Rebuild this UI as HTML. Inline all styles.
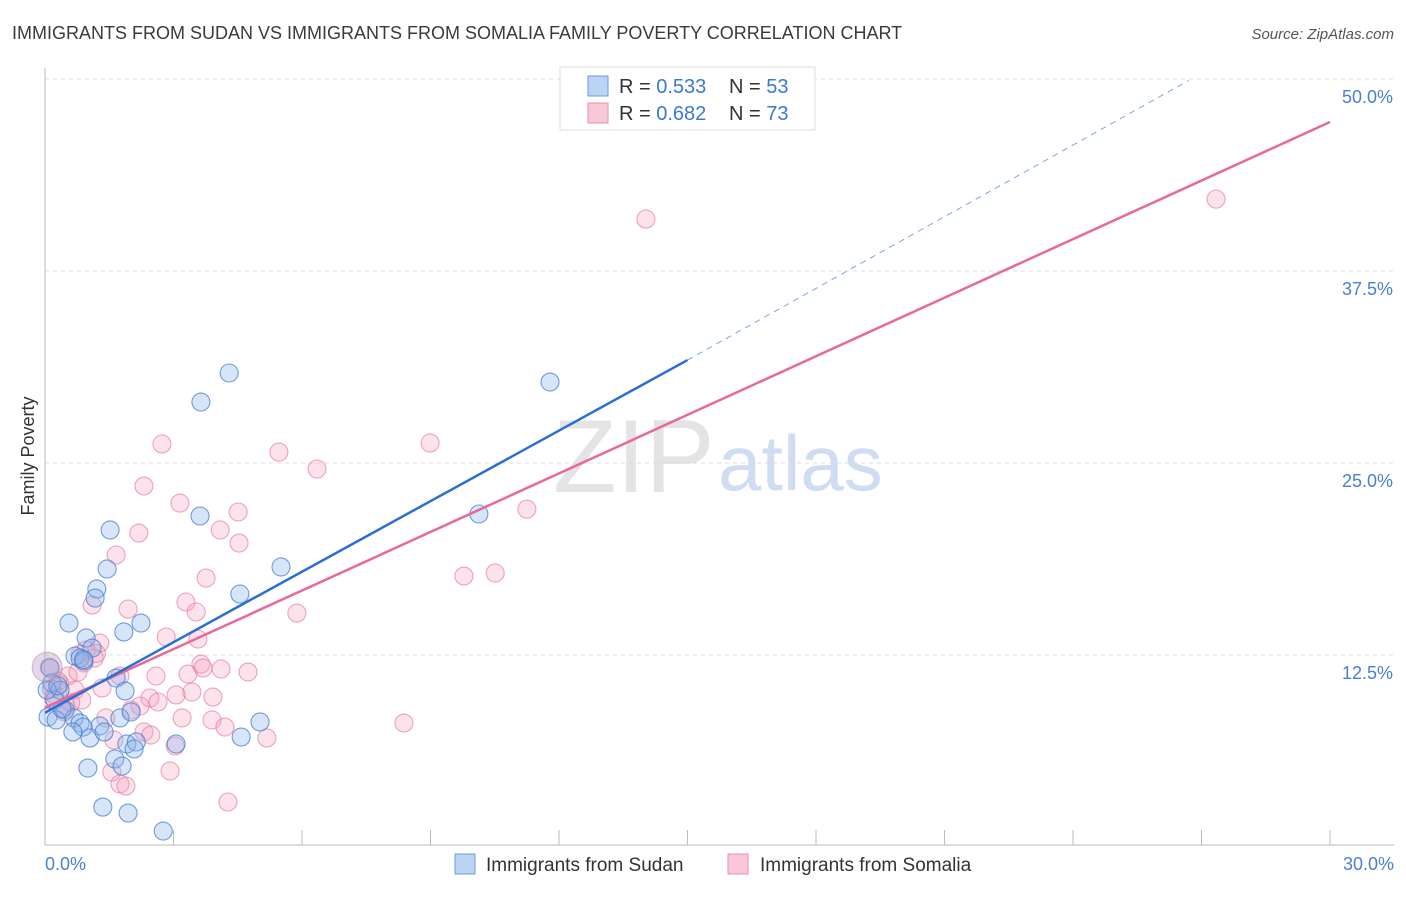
<!DOCTYPE html>
<html><head><meta charset="utf-8"><style>
body{margin:0;background:#fff;font-family:"Liberation Sans",sans-serif;}
svg text{font-family:"Liberation Sans",sans-serif;}
</style></head><body>
<svg id="chart" width="1406" height="892" xmlns="http://www.w3.org/2000/svg">
<text x="12" y="39" font-size="18" fill="#3a3a3a">IMMIGRANTS FROM SUDAN VS IMMIGRANTS FROM SOMALIA FAMILY POVERTY CORRELATION CHART</text>
<text x="1394" y="39" font-size="15" fill="#555" font-style="italic" text-anchor="end">Source: ZipAtlas.com</text>
<text x="553" y="492" font-size="104" fill="#e4e4e4" font-family="Liberation Serif">ZIP</text>
<text x="718" y="490" font-size="78" fill="#cfdcf2">atlas</text>
<g id="grid"></g>
<line x1="45" y1="68" x2="45" y2="845" stroke="#bbb"/>
<line x1="45" y1="845" x2="1394" y2="845" stroke="#bbb"/>
<g id="ticks"></g>
<text transform="translate(34,456) rotate(-90)" font-size="18" fill="#333" text-anchor="middle">Family Poverty</text>
<text x="45" y="870" font-size="18" fill="#4a7fd4">0.0%</text>
<text x="1394" y="870" font-size="18" fill="#4a7fd4" text-anchor="end">30.0%</text>
<g id="points"></g>
<g id="lines"></g>
<g>
<rect x="560" y="67" width="255" height="63" fill="#fff" stroke="#ddd"/>
<rect x="588" y="76" width="20" height="20" fill="#bcd3f3" stroke="#6b9be0"/>
<text x="619" y="93" font-size="20" fill="#333">R = <tspan fill="#3b78d6">0.533</tspan></text>
<text x="729" y="93" font-size="20" fill="#333">N = <tspan fill="#3b78d6">53</tspan></text>
<rect x="588" y="103" width="20" height="20" fill="#f9c8d7" stroke="#e890ab"/>
<text x="619" y="120" font-size="20" fill="#333">R = <tspan fill="#3b78d6">0.682</tspan></text>
<text x="729" y="120" font-size="20" fill="#333">N = <tspan fill="#3b78d6">73</tspan></text>
</g>
<g>
<rect x="455" y="854" width="20" height="20" fill="#bcd3f3" stroke="#6b9be0"/>
<text x="486" y="871" font-size="19" fill="#333">Immigrants from Sudan</text>
<rect x="728" y="854" width="20" height="20" fill="#f9c8d7" stroke="#e890ab"/>
<text x="760" y="871" font-size="19" fill="#333">Immigrants from Somalia</text>
</g>
</svg>
<script>
const yTicks=[12.5,25,37.5,50];
const yTickLabels=["12.5%","25.0%","37.5%","50.0%"];
const xTicks=[0,3,6,9,12,15,18,21,24,27,30];
const sudanX=[4.30,3.64,11.79,1.52,3.62,10.13,5.51,1.45,1.21,1.17,4.55,0.56,2.24,1.84,0.96,1.10,0.70,0.82,0.91,0.12,1.66,1.87,0.16,0.35,0.23,0.47,0.07,0.68,0.82,1.75,1.28,0.89,0.65,1.05,1.38,2.01,5.02,4.58,1.91,2.13,2.08,3.06,1.63,1.80,1.00,1.35,1.94,2.76,0.05,0.26,0.4,0.3,0.9];
const sudanY=[30.86,28.97,30.27,20.64,21.55,21.68,18.23,18.10,16.80,16.21,16.47,14.58,14.58,14.00,13.61,12.95,12.43,12.30,12.11,11.65,11.00,10.16,10.68,10.22,9.57,8.92,8.46,8.40,8.07,8.40,7.88,7.81,7.49,7.10,7.49,8.79,8.14,7.16,6.71,6.84,6.38,6.71,5.73,5.27,5.14,2.60,2.21,1.04,10.22,8.27,9.0,10.5,12.2];
const somaliaX=[14.03,27.34,2.73,5.46,8.99,6.35,2.31,3.15,4.51,11.25,4.09,2.19,4.53,1.66,3.76,9.78,10.51,1.10,1.94,3.29,3.53,5.88,2.83,3.57,1.28,0.96,1.15,0.82,0.91,3.64,3.69,4.11,4.74,3.34,2.59,1.75,0.54,0.35,0.70,1.33,0.86,3.43,3.06,3.92,2.45,2.64,2.22,1.42,2.01,3.20,3.90,8.38,4.20,2.31,2.47,1.61,5.18,3.04,1.56,2.92,1.75,1.89,4.27,0.49,0.77,0.23,0.1,0.3,0.6,1.2,0.15,0.45,0.2];
const somaliaY=[40.88,42.18,26.24,25.71,26.30,24.61,23.50,22.39,21.81,22.00,20.64,20.44,19.79,19.01,17.51,17.64,17.84,15.75,15.49,15.95,15.30,15.23,13.67,13.54,13.28,12.82,12.30,12.56,11.98,11.91,11.65,11.59,11.39,11.26,11.13,11.13,11.13,10.61,10.22,10.35,9.57,10.09,9.90,9.76,9.70,9.44,9.18,8.40,8.92,8.40,8.27,8.07,7.81,7.49,7.29,6.97,7.10,6.58,4.88,4.95,4.10,3.97,2.93,9.18,11.39,9.90,11.7,10.8,9.4,12.6,10.3,8.8,9.7];
const sudanLine=[[0,8.74],[15.0,31.7]];
const sudanDash=[[15.0,31.7],[26.7,49.9]];
const somaliaLine=[[0,9.07],[30,47.2]];
const NS="http://www.w3.org/2000/svg";
const sx=v=>45+v/30*1285;
const sy=v=>847-v/12.5*192;
function mk(tag,attrs,parent){const e=document.createElementNS(NS,tag);for(const k in attrs)e.setAttribute(k,attrs[k]);parent.appendChild(e);return e;}
const grid=document.getElementById('grid');
yTicks.forEach((t,i)=>{
  const l=mk('line',{x1:45,x2:1394,y1:sy(t),y2:sy(t),stroke:'#ddd','stroke-dasharray':'4,4'},grid);
  
  
  const tx=mk('text',{x:1393,y:sy(t)+24,'font-size':18,fill:'#4a7fd4','text-anchor':'end'},grid);
  tx.textContent=yTickLabels[i];
  
  
});
const ticks=document.getElementById('ticks');
xTicks.forEach(t=>{
  const l=mk('line',{x1:sx(t),x2:sx(t),y1:830,y2:845,stroke:'#bbb'},ticks);
  
  
});
const pts=document.getElementById('points');
function drawPts(xs,ys,fill,stroke,name){
  xs.forEach((x,i)=>{
    const c=mk('circle',{cx:sx(x),cy:sy(ys[i]),r:9,fill:fill,stroke:stroke,'stroke-width':1.1},pts);
    
    
  });
}
drawPts(somaliaX,somaliaY,'rgba(244,160,188,0.3)','rgba(228,120,155,0.65)','somalia-point');
drawPts(sudanX,sudanY,'rgba(140,180,236,0.35)','rgba(70,125,210,0.75)','sudan-point');
const big=mk('circle',{cx:sx(0.05),cy:sy(11.7),r:15,fill:'rgba(180,160,200,0.4)',stroke:'rgba(200,130,170,0.6)'},pts);


const lines=document.getElementById('lines');
function drawLine(p,color,dash,name,w){
  const l=mk('line',{x1:sx(p[0][0]),y1:sy(p[0][1]),x2:sx(p[1][0]),y2:sy(p[1][1]),stroke:color,'stroke-width':w},lines);
  if(dash)l.setAttribute('stroke-dasharray',dash);
  
  
}
drawLine(somaliaLine,'#e8689a',null,'somalia-trend-line',2.5);
drawLine(sudanLine,'#2a6fd6',null,'sudan-trend-line',2.5);
drawLine(sudanDash,'#7ea6e0','6,5','sudan-trend-extension',1);
</script>
</body></html>
